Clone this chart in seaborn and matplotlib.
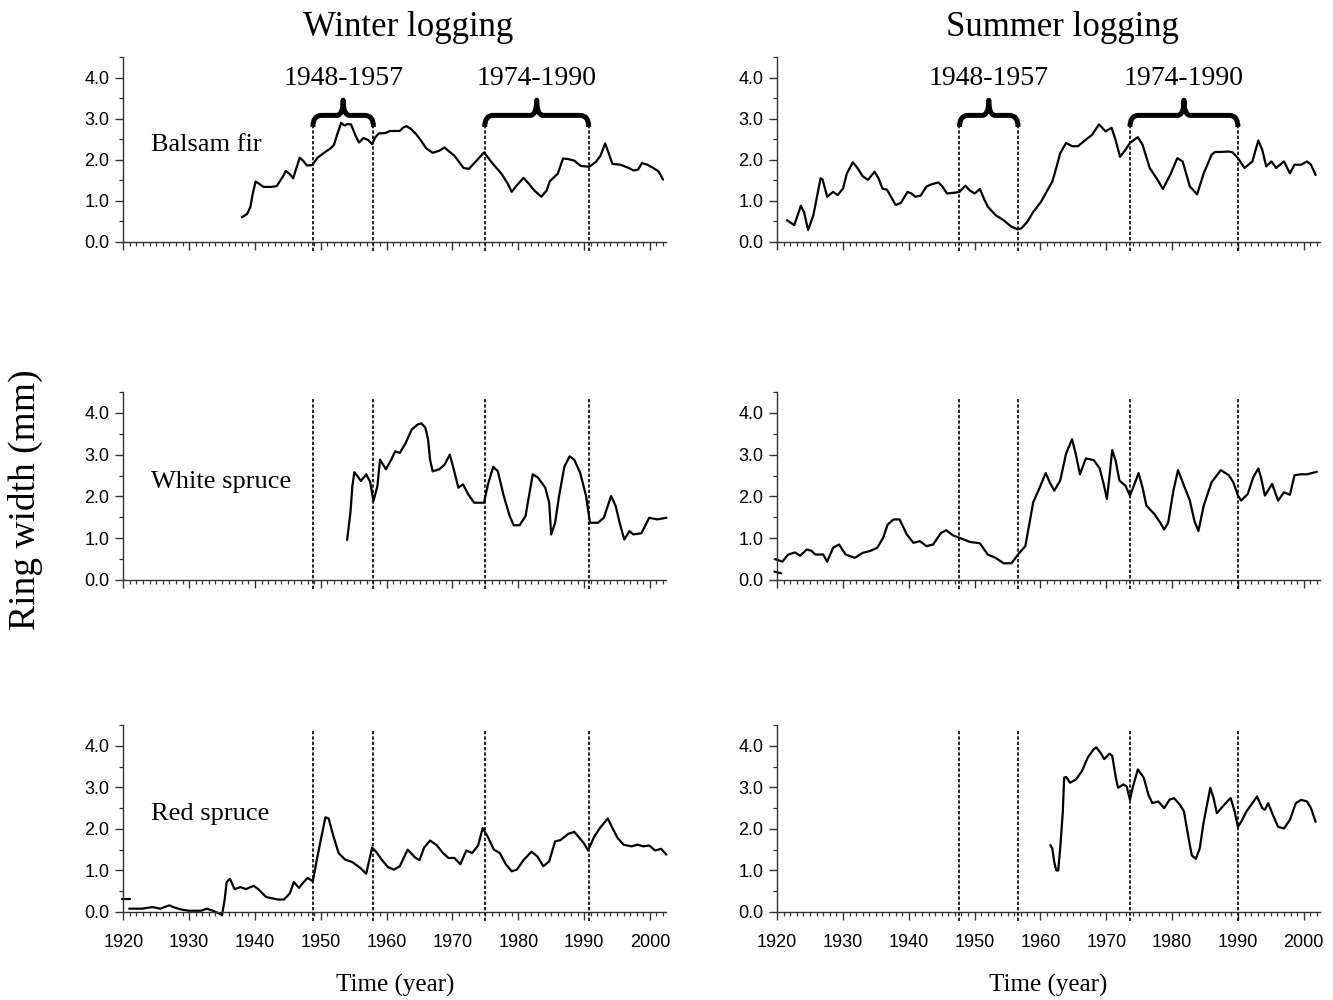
import matplotlib
matplotlib.use("Agg")
import pandas as pd
import matplotlib.pyplot as plt
import seaborn as sns
from matplotlib.path import Path
from matplotlib.patches import PathPatch
from matplotlib.ticker import MultipleLocator, FixedLocator, FormatStrFormatter

# ---- data (ring width in mm) ----
bf_winter_years = [1938.0, 1938.8, 1939.3, 1939.7, 1940.1, 1940.6, 1941.3, 1942.5, 1943.3, 1944.2, 1944.7,
                   1945.3, 1945.8, 1946.3, 1946.8, 1947.3, 1947.9, 1948.7, 1949.5, 1950.5, 1951.5, 1952.0,
                   1952.5, 1953.1, 1953.6, 1954.0, 1954.6, 1955.3, 1955.8, 1956.5, 1957.2, 1957.8, 1958.3,
                   1958.8, 1959.8, 1960.5, 1962.0, 1962.5, 1963.0, 1963.7, 1964.5, 1965.3, 1966.0, 1967.0,
                   1968.0, 1968.8, 1969.5, 1970.3, 1971.0, 1971.7, 1972.5, 1973.5, 1974.8, 1976.0, 1977.5,
                   1978.4, 1979.0, 1979.8, 1980.8, 1981.7, 1982.4, 1983.5, 1984.3, 1984.8, 1986.0, 1986.8,
                   1987.5, 1988.5, 1989.5, 1990.8, 1991.8, 1992.5, 1993.2, 1993.8, 1994.3, 1995.5, 1996.8,
                   1997.5, 1998.2, 1998.8, 1999.6, 2000.5, 2001.3, 2002.0]
bf_winter_mm = [0.60, 0.68, 0.85, 1.20, 1.47, 1.42, 1.34, 1.34, 1.36, 1.58, 1.73,
                1.65, 1.55, 1.80, 2.05, 1.98, 1.86, 1.87, 2.05, 2.17, 2.28, 2.36,
                2.62, 2.90, 2.83, 2.87, 2.86, 2.58, 2.42, 2.53, 2.48, 2.38, 2.55,
                2.64, 2.65, 2.70, 2.70, 2.78, 2.82, 2.75, 2.62, 2.45, 2.28, 2.17,
                2.22, 2.30, 2.20, 2.10, 1.95, 1.80, 1.78, 1.95, 2.18, 1.93, 1.65,
                1.42, 1.22, 1.38, 1.56, 1.40, 1.26, 1.10, 1.25, 1.48, 1.66, 2.03,
                2.02, 1.98, 1.85, 1.83, 1.95, 2.10, 2.40, 2.13, 1.90, 1.88, 1.80,
                1.74, 1.76, 1.92, 1.88, 1.80, 1.72, 1.52]

bf_summer_years = [1921.5, 1922.6, 1923.6, 1924.1, 1924.7, 1925.5, 1926.6, 1926.9, 1927.6, 1928.5, 1929.2,
                   1930.0, 1930.6, 1931.5, 1932.2, 1933.0, 1933.8, 1934.8, 1935.4, 1936.0, 1936.7, 1937.3,
                   1938.0, 1938.8, 1939.8, 1940.4, 1941.0, 1941.8, 1942.7, 1943.4, 1944.5, 1945.1, 1945.8,
                   1947.0, 1947.7, 1948.6, 1949.3, 1950.0, 1950.8, 1951.4, 1952.0, 1953.2, 1954.4, 1955.6,
                   1956.5, 1957.1, 1958.0, 1958.9, 1960.1, 1961.1, 1961.8, 1962.4, 1963.0, 1963.9, 1964.8,
                   1965.7, 1966.9, 1967.8, 1968.9, 1969.9, 1970.8, 1971.4, 1972.1, 1972.9, 1973.6, 1974.8,
                   1975.5, 1976.6, 1977.8, 1978.6, 1979.7, 1980.8, 1981.6, 1982.7, 1983.8, 1984.8, 1986.0,
                   1986.5, 1987.4, 1988.6, 1989.2, 1990.0, 1991.0, 1992.2, 1993.1, 1993.7, 1994.3, 1995.1,
                   1995.8, 1997.0, 1997.9, 1998.6, 1999.6, 2000.5, 2001.1, 2001.8]
bf_summer_mm = [0.53, 0.41, 0.88, 0.72, 0.29, 0.65, 1.55, 1.52, 1.10, 1.22, 1.14,
                1.30, 1.67, 1.94, 1.80, 1.60, 1.51, 1.71, 1.55, 1.30, 1.27, 1.10,
                0.90, 0.95, 1.22, 1.18, 1.10, 1.13, 1.35, 1.40, 1.45, 1.35, 1.18,
                1.20, 1.22, 1.37, 1.25, 1.18, 1.29, 1.06, 0.86, 0.65, 0.53, 0.37,
                0.31, 0.33, 0.49, 0.73, 0.98, 1.27, 1.47, 1.80, 2.16, 2.41, 2.33,
                2.33, 2.49, 2.60, 2.86, 2.69, 2.78, 2.49, 2.07, 2.24, 2.41, 2.55,
                2.37, 1.80, 1.51, 1.29, 1.63, 2.04, 1.96, 1.35, 1.16, 1.67, 2.12,
                2.19, 2.19, 2.20, 2.18, 2.04, 1.80, 1.96, 2.47, 2.24, 1.84, 1.96,
                1.80, 1.96, 1.67, 1.88, 1.88, 1.96, 1.88, 1.63]

ws_winter_years = [1954.0, 1954.5, 1954.8, 1955.1, 1955.5, 1956.1, 1956.9, 1957.5, 1958.0, 1958.6, 1959.0,
                   1959.9, 1960.7, 1961.3, 1962.0, 1962.9, 1963.8, 1964.7, 1965.3, 1965.9, 1966.3, 1966.6,
                   1967.0, 1968.0, 1968.8, 1969.6, 1970.2, 1970.9, 1971.6, 1972.4, 1973.3, 1974.8, 1975.4,
                   1976.2, 1976.9, 1977.8, 1978.7, 1979.3, 1980.2, 1981.1, 1982.2, 1983.0, 1984.1, 1984.7,
                   1985.0, 1985.6, 1986.2, 1987.0, 1987.8, 1988.5, 1989.4, 1990.3, 1990.9, 1992.1, 1993.0,
                   1994.1, 1994.8, 1995.4, 1996.1, 1996.9, 1997.5, 1998.7, 1999.9, 2001.1, 2002.5]
ws_winter_mm = [0.96, 1.61, 2.25, 2.58, 2.50, 2.37, 2.53, 2.35, 1.89, 2.25, 2.88,
                2.65, 2.88, 3.08, 3.04, 3.28, 3.60, 3.72, 3.75, 3.64, 3.36, 2.88,
                2.60, 2.65, 2.76, 3.00, 2.65, 2.21, 2.29, 2.05, 1.85, 1.85, 2.29,
                2.71, 2.60, 2.01, 1.53, 1.31, 1.31, 1.53, 2.53, 2.45, 2.21, 1.85,
                1.09, 1.37, 2.01, 2.71, 2.96, 2.88, 2.57, 2.01, 1.37, 1.37, 1.49,
                2.01, 1.77, 1.37, 0.97, 1.17, 1.09, 1.12, 1.49, 1.45, 1.49]

ws_summer_years = [1919.7, 1920.8, 1921.7, 1922.7, 1923.5, 1924.5, 1925.2, 1925.8, 1927.0, 1927.6, 1928.5,
                   1929.4, 1930.4, 1931.8, 1933.0, 1934.2, 1935.2, 1936.1, 1936.8, 1937.7, 1938.6, 1939.7,
                   1940.7, 1941.7, 1942.7, 1943.7, 1944.9, 1945.7, 1946.7, 1947.7, 1949.3, 1950.8, 1952.0,
                   1953.2, 1954.4, 1955.6, 1956.8, 1957.7, 1958.3, 1958.9, 1959.8, 1960.8, 1961.4, 1962.1,
                   1963.0, 1963.9, 1964.8, 1965.4, 1966.0, 1966.9, 1968.1, 1969.0, 1969.6, 1970.1, 1970.5,
                   1970.9, 1971.4, 1972.0, 1972.9, 1973.6, 1974.3, 1974.9, 1975.5, 1976.1, 1977.3, 1978.2,
                   1978.8, 1979.4, 1980.2, 1980.9, 1981.8, 1982.7, 1983.4, 1984.0, 1984.8, 1986.0, 1987.4,
                   1988.6, 1989.3, 1990.0, 1990.5, 1991.5, 1992.3, 1993.1, 1993.5, 1994.1, 1995.2, 1996.1,
                   1997.0, 1997.9, 1998.6, 1999.6, 2000.5, 2002.0]
ws_summer_mm = [0.50, 0.44, 0.61, 0.66, 0.58, 0.73, 0.70, 0.61, 0.61, 0.44, 0.77,
                0.85, 0.61, 0.53, 0.65, 0.70, 0.77, 1.01, 1.33, 1.45, 1.45, 1.09,
                0.89, 0.93, 0.81, 0.85, 1.13, 1.19, 1.07, 1.01, 0.91, 0.88, 0.61,
                0.53, 0.40, 0.40, 0.65, 0.81, 1.33, 1.86, 2.18, 2.56, 2.34, 2.14,
                2.38, 3.03, 3.37, 2.99, 2.53, 2.91, 2.87, 2.67, 2.30, 1.94, 2.50,
                3.11, 2.87, 2.38, 2.26, 2.02, 2.30, 2.56, 2.22, 1.78, 1.58, 1.37,
                1.21, 1.37, 2.14, 2.63, 2.26, 1.90, 1.41, 1.17, 1.78, 2.34, 2.63,
                2.51, 2.34, 2.02, 1.90, 2.06, 2.45, 2.67, 2.46, 2.02, 2.30, 1.90,
                2.10, 2.04, 2.51, 2.53, 2.53, 2.59]
ws_summer_stub_years = [1919.6, 1920.6]
ws_summer_stub_mm = [0.20, 0.16]

rs_winter_years = [1920.9, 1922.9, 1924.4, 1925.6, 1927.0, 1927.9, 1929.1, 1930.0, 1931.8, 1932.7, 1933.6,
                   1934.5, 1935.0, 1935.4, 1935.7, 1936.2, 1936.9, 1937.8, 1938.6, 1939.8, 1940.5, 1941.7,
                   1942.6, 1943.5, 1944.4, 1945.3, 1945.9, 1946.7, 1947.3, 1948.0, 1948.8, 1949.4, 1950.1,
                   1950.7, 1951.2, 1951.8, 1952.7, 1953.7, 1954.8, 1956.0, 1956.9, 1957.8, 1958.4, 1959.3,
                   1960.2, 1961.1, 1962.0, 1963.2, 1964.4, 1965.0, 1965.7, 1966.6, 1967.6, 1968.5, 1969.4,
                   1970.3, 1971.2, 1972.1, 1973.0, 1973.9, 1974.6, 1975.4, 1976.3, 1977.2, 1978.1, 1979.0,
                   1979.8, 1980.8, 1982.0, 1982.9, 1983.8, 1984.7, 1985.6, 1986.4, 1987.6, 1988.5, 1989.3,
                   1990.0, 1990.6, 1991.5, 1992.4, 1993.6, 1994.3, 1995.1, 1996.0, 1997.2, 1998.1, 1999.0,
                   1999.9, 2000.8, 2001.7, 2002.5]
rs_winter_mm = [0.08, 0.08, 0.12, 0.08, 0.16, 0.10, 0.05, 0.03, 0.03, 0.08, 0.03,
                -0.03, -0.07, 0.30, 0.72, 0.80, 0.55, 0.60, 0.55, 0.63, 0.55, 0.36,
                0.33, 0.30, 0.30, 0.45, 0.72, 0.58, 0.70, 0.82, 0.74, 1.26, 1.81,
                2.28, 2.25, 1.89, 1.42, 1.26, 1.20, 1.06, 0.92, 1.55, 1.45, 1.25,
                1.08, 1.02, 1.10, 1.50, 1.30, 1.25, 1.55, 1.72, 1.61, 1.43, 1.30,
                1.30, 1.15, 1.48, 1.42, 1.60, 2.02, 1.80, 1.50, 1.42, 1.15, 0.98,
                1.02, 1.25, 1.45, 1.34, 1.10, 1.22, 1.70, 1.73, 1.88, 1.93, 1.78,
                1.65, 1.48, 1.80, 2.02, 2.25, 2.02, 1.78, 1.62, 1.58, 1.62, 1.58,
                1.60, 1.48, 1.52, 1.38]
rs_winter_stub_years = [1919.8, 1921.0]
rs_winter_stub_mm = [0.32, 0.32]

rs_summer_years = [1961.5, 1961.8, 1962.1, 1962.4, 1962.7, 1963.0, 1963.4, 1963.6, 1963.9, 1964.5, 1965.4,
                   1966.3, 1967.2, 1968.1, 1968.5, 1969.1, 1969.7, 1970.5, 1970.9, 1971.5, 1971.8, 1972.6,
                   1973.1, 1973.6, 1974.0, 1974.8, 1975.7, 1976.4, 1977.0, 1977.9, 1978.8, 1979.6, 1980.3,
                   1981.2, 1981.8, 1982.6, 1983.0, 1983.6, 1984.2, 1984.8, 1985.5, 1985.8, 1986.3, 1986.8,
                   1987.7, 1988.6, 1988.9, 1989.5, 1990.0, 1990.5, 1991.3, 1992.2, 1992.9, 1993.7, 1994.1,
                   1994.6, 1995.3, 1996.1, 1997.0, 1997.9, 1998.8, 1999.6, 2000.5, 2001.1, 2001.8]
rs_summer_mm = [1.61, 1.53, 1.20, 1.00, 1.00, 1.53, 2.42, 3.23, 3.25, 3.11, 3.19,
                3.39, 3.72, 3.92, 3.96, 3.84, 3.68, 3.81, 3.76, 3.19, 2.99, 3.07,
                3.02, 2.70, 2.99, 3.43, 3.23, 2.82, 2.62, 2.66, 2.50, 2.70, 2.74,
                2.58, 2.42, 1.69, 1.36, 1.28, 1.53, 2.17, 2.74, 2.99, 2.74, 2.38,
                2.54, 2.70, 2.74, 2.42, 2.05, 2.17, 2.42, 2.62, 2.78, 2.50, 2.46,
                2.62, 2.34, 2.05, 2.01, 2.22, 2.62, 2.70, 2.66, 2.50, 2.17]

# logging periods and where the dashed guide lines sit in each column
periods = [(1948, 1957), (1974, 1990)]
guides_winter = [1948.8, 1958.0, 1974.9, 1990.7]
guides_summer = [1947.7, 1956.6, 1973.6, 1990.0]

species = ["Balsam fir", "White spruce", "Red spruce"]
col_titles = ["Winter logging", "Summer logging"]

panels = {
    (0, 0): [(bf_winter_years, bf_winter_mm)],
    (0, 1): [(bf_summer_years, bf_summer_mm)],
    (1, 0): [(ws_winter_years, ws_winter_mm)],
    (1, 1): [(ws_summer_years, ws_summer_mm), (ws_summer_stub_years, ws_summer_stub_mm)],
    (2, 0): [(rs_winter_years, rs_winter_mm), (rs_winter_stub_years, rs_winter_stub_mm)],
    (2, 1): [(rs_summer_years, rs_summer_mm)],
}

SERIF = ["Liberation Serif", "DejaVu Serif"]

sns.set_theme(style="ticks")
plt.rcParams['font.family'] = ['Liberation Sans', 'DejaVu Sans']
plt.rcParams['axes.linewidth'] = 1.0
plt.rcParams['axes.edgecolor'] = '#333333'
plt.rcParams['xtick.color'] = '#333333'
plt.rcParams['ytick.color'] = '#333333'
plt.rcParams['xtick.labelcolor'] = 'black'
plt.rcParams['ytick.labelcolor'] = 'black'
plt.rcParams['text.color'] = 'black'


def draw_brace(ax, x0, x1, text):
    """curly brace over a logging period, with the period label on top"""
    y_end, y_h, y_top = 2.80, 3.08, 3.45
    r, m = 1.3, 1.0
    xm = (x0 + x1) / 2
    verts = [(x0, y_end), (x0, y_h), (x0 + r, y_h),
             (xm - m, y_h),
             (xm, y_h), (xm, y_top),
             (xm, y_h), (xm + m, y_h),
             (x1 - r, y_h),
             (x1, y_h), (x1, y_end)]
    codes = [Path.MOVETO, Path.CURVE3, Path.CURVE3,
             Path.LINETO,
             Path.CURVE3, Path.CURVE3,
             Path.CURVE3, Path.CURVE3,
             Path.LINETO,
             Path.CURVE3, Path.CURVE3]
    ax.add_patch(PathPatch(Path(verts, codes), fill=False, lw=3.6, color="black",
                           capstyle="butt", joinstyle="round", clip_on=False))
    ax.text(xm, 3.97, text, ha="center", va="center", fontsize=20, family=SERIF)


fig = plt.figure(figsize=(13.33, 10), dpi=100)

col_left = [0.0925, 0.583]
row_bottom = [0.758, 0.420, 0.088]
row_height = [0.185, 0.188, 0.187]
ax_width = 0.4074

for r in range(3):
    for c in range(2):
        ax = fig.add_axes([col_left[c], row_bottom[r], ax_width, row_height[r]])
        for yrs, mm in panels[(r, c)]:
            df = pd.DataFrame({"year": yrs, "mm": mm})
            sns.lineplot(data=df, x="year", y="mm", ax=ax, color="black", lw=1.6,
                         sort=False, estimator=None, clip_on=False)

        guides = guides_winter if c == 0 else guides_summer
        if r == 0:
            ax.vlines(guides, -0.22, 2.80, colors="black", lw=1.2,
                      linestyles=(0, (2, 1.2)), clip_on=False)
            for (a, b), i in zip(periods, [0, 2]):
                draw_brace(ax, guides[i], guides[i + 1], f"{a}-{b}")
        else:
            ax.vlines(guides, -0.22, 4.35, colors="black", lw=1.2,
                      linestyles=(0, (2, 1.2)), clip_on=False)

        if c == 0:
            ax.text(1924.2, 2.35, species[r], ha="left", va="center",
                    fontsize=19, family=SERIF)

        ax.set_xlim(1920, 2002.5)
        ax.set_ylim(0, 4.5)
        ax.xaxis.set_major_locator(MultipleLocator(10))
        ax.xaxis.set_minor_locator(MultipleLocator(1))
        ax.yaxis.set_major_locator(FixedLocator([0, 1, 2, 3, 4]))
        ax.yaxis.set_minor_locator(MultipleLocator(0.5))
        ax.yaxis.set_major_formatter(FormatStrFormatter('%.1f'))
        ax.tick_params(axis="both", which="major", direction="out", length=6, width=1,
                       labelsize=13, pad=4)
        ax.tick_params(axis="both", which="minor", direction="out", length=3, width=0.9)
        ax.tick_params(axis="x", which="major", pad=10)
        if r < 2:
            ax.tick_params(axis="x", labelbottom=False)
        ax.set_xlabel("")
        ax.set_ylabel("")
        sns.despine(ax=ax)

        if r == 0:
            fig.text(col_left[c] + ax_width / 2 + 0.01, 0.973, col_titles[c], ha="center",
                     va="center", fontsize=25, family=SERIF)
        if r == 2:
            fig.text(col_left[c] + ax_width / 2, 0.015, "Time (year)", ha="center",
                     va="center", fontsize=18, family=SERIF)

fig.text(0.019, 0.5, "Ring width (mm)", rotation=90, ha="center", va="center",
         fontsize=27, family=SERIF)

fig.savefig("out.png", dpi=100)
